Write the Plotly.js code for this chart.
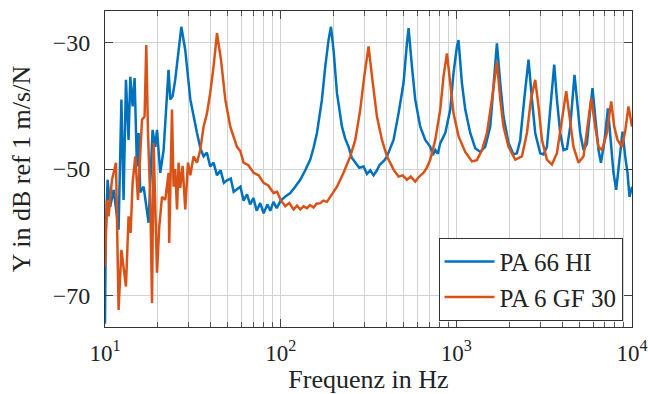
<!DOCTYPE html>
<html>
<head>
<meta charset="utf-8">
<script src="https://cdn.plot.ly/plotly-3.0.1.min.js"></script>
<style>html,body{margin:0;padding:0;background:#fff;}#chart{width:648px;height:394px;}</style>
</head>
<body>
<div id="chart"></div>
<script>
// PA 66 HI (blue)
const freqA = [10.0, 10.1, 10.35, 10.7, 11.2, 11.95, 12.4, 12.76, 13.16, 13.62, 13.93, 14.36, 14.74, 15.2, 15.53, 15.88, 16.59, 17.7, 18.66, 19.32, 19.77, 20.64, 21.56, 23.0, 23.53, 24.25, 25.1, 27.2, 28.64, 30.6,
  33.4, 35.0, 36.4, 38.0, 39.7, 41.5, 43.4, 45.5, 47.5, 49.5, 52.0, 54.0, 56.4, 59.0, 61.5, 64.3, 67.0, 70.0, 73.0, 76.5, 80.0, 84.0, 87.3, 91.0, 95.0,
  100, 106, 113.4, 121, 129.3, 138, 147.4, 154, 160.9, 166, 171.8, 179.4, 187.3, 193.3, 200, 209.2, 223.3, 233, 243.5, 254, 265.9, 280, 296.5, 310, 323.6, 338, 353.2, 365, 377.2, 390, 402.7, 420, 439.2, 468.8, 500.6, 523.4, 534.6, 558.9, 583.4, 623, 665.3, 710.5, 735, 758.6, 785, 809.9, 864.8, 923.4, 964,
  1008, 1029, 1076, 1124, 1200, 1281, 1368, 1460, 1560, 1628, 1702, 1778, 1856, 1982, 2116, 2213, 2310, 2435, 2576, 2694, 2812, 3003, 3136, 3278, 3423, 3607, 3737, 3902, 4074, 4262, 4449, 4706, 4857, 5072, 5297, 5538, 5781, 5960, 6174, 6447, 6653, 6947, 7293, 7516, 7848, 8128, 8377, 8831, 9148, 9428, 9678, 10000];
const dbA = [-74.5, -60, -51.7, -56, -53.3, -59.6, -39, -54.9, -35.9, -45.4, -35.4, -40.1, -35.6, -49.6, -44.3, -53.7, -52.8, -58.5, -43.8, -46.5, -43.8, -50.6, -47, -34.3, -39, -38.5, -35.9, -27.5, -31.2, -39,
  -44.3, -46.8, -48, -47.4, -49.6, -49.0, -51.0, -50.2, -52.2, -51.8, -51.5, -53.6, -53.2, -52.8, -55.0, -54.0, -55.6, -54.6, -56.6, -55.4, -57.0, -55.6, -56.6, -55.2, -56.2,
  -55.0, -54.4, -53.8, -52.8, -51.7, -50.2, -48.5, -46.6, -44.3, -41.8, -39, -33.8, -29.6, -27.5, -31.2, -38, -43.3, -45.2, -46.5, -48.2, -49, -49.8, -49.6, -50.8, -50.2, -51.0, -50.2, -49.4, -49, -48.6, -48, -46.8, -45.4, -41.2, -36.4, -30.1, -27.7, -33.8, -39, -43.3, -45.4, -46.5, -47.8, -47, -47.6, -45.9, -44.3, -40.6, -34.8,
  -30.6, -29.6, -36.4, -40.6, -44.3, -46.7, -47.3, -46.5, -43.3, -36.4, -30.1, -36.4, -41.7, -45.9, -47.7, -47.5, -45.4, -39, -32.7, -39, -44.3, -47.5, -47.7, -46.5, -40.6, -33.5, -39, -44.3, -47, -46.8, -43.3, -35.1, -39, -44.3, -47, -46, -40.6, -37.2, -41.7, -47, -49, -45.9, -40.4, -44.3, -50.6, -53.3, -49.6, -44.1, -48, -50.6, -54.4, -52.8];

// PA 6 GF 30 (orange)
const freqB = [10.0, 10.26, 10.48, 10.96, 11.55, 11.95, 12.4, 12.76, 13.16, 13.62, 13.99, 14.36, 14.87, 15.41, 15.88, 16.24, 16.8, 17.18, 17.57, 18.11, 18.52, 18.91, 19.77, 20.37, 21.11, 22.03, 23.0, 23.2, 24.06, 24.57, 25.1, 25.7, 26.24, 26.83, 27.65, 28.64, 29.68, 30.6, 31.93, 33.4, 34.86,
  36.4, 38.06, 39.7, 41.5, 43.4, 45.73, 48.4, 51.66, 54, 56.4, 59, 61.5, 65.5, 70.1, 75, 79.9, 85, 91.1, 95.5,
  100, 106.2, 112, 118.4, 124, 129.3, 135, 141.1, 147, 153.9, 160, 168.1, 175, 183.4, 191.6, 200, 209.2, 228, 248.9, 265.9, 283.8, 299.2, 316.5, 330.9, 353.2, 377.2, 402.7, 439.2, 468.8, 495, 523.4, 550, 583.4, 615, 650.6, 680, 710.5, 758.6, 809.9, 845.8, 884.4, 923.4, 964,
  1029, 1124, 1227, 1310, 1399, 1494, 1595, 1702, 1778, 1856, 1982, 2164, 2363, 2523, 2659, 2812, 2937, 3071, 3278, 3501, 3737, 3990, 4222, 4410, 4645, 4961, 5297, 5581, 5860, 6174, 6447, 6742, 7198, 7614, 7921, 8270, 8760, 9148, 9552, 10000];
const dbB = [-65.5, -54.9, -57.5, -51.7, -49, -72.3, -62.8, -65.4, -68.6, -57.5, -60.1, -52.2, -48, -54.9, -47, -42.2, -41.7, -30.4, -44.3, -54.9, -71.2, -45.9, -66.4, -59.1, -54.4, -54.9, -50.6, -61.7, -40.6, -52.8, -50, -56.4, -49, -53, -49.5, -56.4, -49, -51, -48, -49, -47,
  -43.3, -41.2, -38, -33.8, -28.5, -32.7, -39, -43.3, -44.8, -46.5, -47.2, -49, -49.4, -50.6, -51.0, -52.2, -52.6, -53.8, -53.6,
  -54.9, -55.9, -55.4, -56.4, -55.8, -56.4, -55.9, -56.2, -55.7, -56.1, -55.5, -55.4, -55.0, -55.2, -54.4, -53.8, -52.8, -50.6, -48, -45.4, -40.6, -35.3, -30.6, -35.3, -41.7, -45.4, -48, -50.1, -51.2, -51.0, -51.7, -51.2, -52, -51.2, -50.6, -49.8, -48.5, -45.4, -40.6, -35.3, -31.7, -36.4, -41.2,
  -44.8, -47.3, -48.8, -48.6, -47, -44.3, -39, -33, -39, -43.3, -46.5, -48.5, -48, -44.3, -39, -35.9, -40.1, -45.4, -48.5, -49.3, -47.5, -42.2, -37.7, -41.7, -46.5, -49, -48, -43.3, -38.8, -43.3, -46.5, -47, -44.3, -39.3, -43.3, -45.4, -46.5, -44, -40.1, -43.3];

const seriesNames = ['PA 66 HI', 'PA 6 GF 30'];
const xTickVals = [10, 100, 1000, 10000];
const xTickText = ['10<sup>1</sup>', '10<sup>2</sup>', '10<sup>3</sup>', '10<sup>4</sup>'];
const yTickVals = [-70, -50, -30];

const minorVals = [];
[10, 100, 1000].forEach(d => { for (let m = 2; m <= 9; m++) minorVals.push(m * d); });

const FONT = 'Liberation Serif, Times New Roman, serif';
const INK = '#222222';
const GRID = '#d2d2d2';

const traces = [
  {x: freqA, y: dbA, name: seriesNames[0], type: 'scatter', mode: 'lines', line: {color: '#0072BD', width: 2.5}},
  {x: freqB, y: dbB, name: seriesNames[1], type: 'scatter', mode: 'lines', line: {color: '#D95319', width: 2.5}}
];

const layout = {
  width: 648, height: 394,
  margin: {l: 105, r: 16, t: 11, b: 67, pad: 0},
  paper_bgcolor: '#ffffff', plot_bgcolor: '#ffffff',
  font: {family: FONT, size: 24, color: INK},
  showlegend: true,
  xaxis: {
    type: 'log', range: [1, 4],
    tickmode: 'array', tickvals: xTickVals, ticktext: xTickText,
    ticks: 'inside', ticklen: 8, tickwidth: 1, tickcolor: '#444',
    showline: true, linecolor: '#333', linewidth: 1, mirror: 'allticks',
    showgrid: true, gridcolor: GRID, gridwidth: 1, zeroline: false,
    tickfont: {family: FONT, size: 23, color: INK},
    ticklabelstandoff: 5,
    ticklabeloverflow: 'allow',
    minor: {tickmode: 'array', tickvals: minorVals, ticks: 'inside', ticklen: 5, tickcolor: '#555', showgrid: true, gridcolor: GRID, gridwidth: 1},
    title: {text: 'Frequenz in Hz', font: {family: FONT, size: 26, color: INK}, standoff: 2}
  },
  yaxis: {
    range: [-75, -25],
    tickmode: 'array', tickvals: yTickVals,
    ticks: 'inside', ticklen: 8, tickwidth: 1, tickcolor: '#444',
    showline: true, linecolor: '#333', linewidth: 1, mirror: 'allticks',
    showgrid: true, gridcolor: GRID, gridwidth: 1, zeroline: false,
    tickfont: {family: FONT, size: 24, color: INK},
    ticklabelstandoff: 9,
    ticklabeloverflow: 'allow',
    title: {text: 'Y in dB ref 1 m/s/N', font: {family: FONT, size: 26, color: INK}, standoff: 14}
  },
  legend: {
    x: 0.982, xanchor: 'right', y: 0.02, yanchor: 'bottom',
    bgcolor: '#ffffff', bordercolor: '#333', borderwidth: 1,
    font: {family: FONT, size: 25, color: INK},
    itemwidth: 50,
    tracegroupgap: 0
  }
};

Plotly.newPlot('chart', traces, layout, {staticPlot: true, displayModeBar: false});
</script>
</body>
</html>
